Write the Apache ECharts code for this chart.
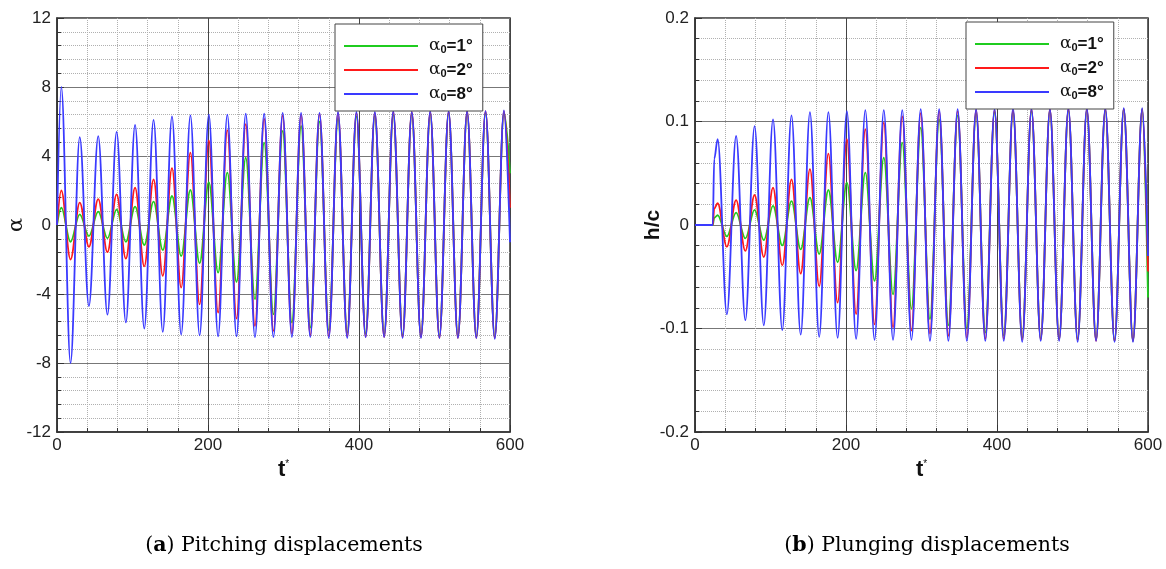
<!DOCTYPE html>
<html><head><meta charset="utf-8">
<script src="https://cdn.jsdelivr.net/npm/echarts@6/dist/echarts.min.js"></script>
<style>html,body{margin:0;padding:0;background:#fff}#c{width:1166px;height:569px}</style>
</head><body><div id="c"></div>
<script>
// ---------- data (successive extremes of each curve) ----------
const seriesNames = ['α0=1°', 'α0=2°', 'α0=8°'];
const seriesColors = ['#1fcc1f', '#ff1a1a', '#3a3aff'];

// (a) pitching displacement alpha vs t*
const pitchTimes = [0, 5.7, 17.9, 30.1, 42.3, 54.6, 66.8, 79.0, 91.2, 103.4, 115.6, 127.9, 140.1, 152.3, 164.5, 176.7, 188.9, 201.1, 213.4, 225.6, 237.8, 250.0, 262.2, 274.4, 286.7, 298.9, 311.1, 323.3, 335.5, 347.7, 360.0, 372.2, 384.4, 396.6, 408.8, 421.0, 433.3, 445.4, 457.7, 469.9, 482.1, 494.3, 506.5, 518.7, 531.0, 543.2, 555.4, 567.6, 579.8, 592.0, 600];
const pitchA1 = [0, 1.0, -0.97, 0.62, -0.64, 0.77, -0.77, 0.9, -0.97, 1.06, -1.16, 1.35, -1.45, 1.68, -1.8, 2.03, -2.22, 2.49, -2.76, 3.04, -3.3, 3.9, -4.3, 4.77, -5.18, 5.45, -5.66, 5.74, -5.95, 6.0, -6.1, 6.2, -6.25, 6.3, -6.3, 6.35, -6.35, 6.4, -6.4, 6.45, -6.45, 6.45, -6.45, 6.5, -6.45, 6.5, -6.5, 6.5, -6.5, 6.5, 3.0];
const pitchA2 = [0, 2.0, -2.0, 1.3, -1.26, 1.5, -1.57, 1.78, -1.95, 2.16, -2.4, 2.65, -2.95, 3.3, -3.63, 4.2, -4.6, 4.9, -5.08, 5.5, -5.43, 5.85, -5.85, 6.15, -6.14, 6.35, -6.3, 6.4, -6.4, 6.45, -6.45, 6.5, -6.45, 6.5, -6.5, 6.5, -6.5, 6.55, -6.5, 6.55, -6.5, 6.55, -6.55, 6.55, -6.55, 6.6, -6.55, 6.6, -6.55, 6.6, 1.0];
const pitchA8 = [0, 8.0, -8.0, 5.1, -4.7, 5.15, -5.2, 5.4, -5.65, 5.8, -6.0, 6.1, -6.2, 6.3, -6.35, 6.35, -6.4, 6.4, -6.45, 6.4, -6.45, 6.45, -6.5, 6.45, -6.5, 6.5, -6.5, 6.5, -6.5, 6.5, -6.55, 6.55, -6.55, 6.55, -6.5, 6.55, -6.5, 6.6, -6.55, 6.55, -6.55, 6.6, -6.55, 6.6, -6.55, 6.6, -6.55, 6.6, -6.6, 6.65, -1.0];

// (b) plunging displacement h/c vs t*
const plungeTimes = [0, 23.5, 25.5, 30.0, 42.2, 54.45, 66.7, 78.9, 91.1, 103.35, 115.6, 127.8, 140.0, 152.25, 164.5, 176.7, 188.9, 201.15, 213.4, 225.6, 237.8, 250.05, 262.3, 274.5, 286.7, 298.95, 311.2, 323.4, 335.6, 347.85, 360.1, 372.3, 384.5, 396.75, 409.0, 421.2, 433.4, 445.65, 457.9, 470.1, 482.3, 494.55, 506.8, 519.0, 531.2, 543.45, 555.7, 567.9, 580.1, 592.35, 600];
const plungeA1 = [0, 0, 0.007, 0.0094, -0.011, 0.012, -0.013, 0.0146, -0.0146, 0.0184, -0.0197, 0.023, -0.0236, 0.0265, -0.028, 0.0338, -0.036, 0.041, -0.044, 0.0506, -0.054, 0.065, -0.067, 0.0796, -0.081, 0.094, -0.091, 0.102, -0.097, 0.106, -0.100, 0.108, -0.104, 0.109, -0.107, 0.110, -0.109, 0.110, -0.110, 0.111, -0.110, 0.111, -0.111, 0.111, -0.111, 0.111, -0.112, 0.112, -0.112, 0.112, -0.07];
const plungeA2 = [0, 0, 0.016, 0.021, -0.021, 0.024, -0.025, 0.029, -0.031, 0.036, -0.039, 0.044, -0.047, 0.054, -0.059, 0.069, -0.075, 0.083, -0.086, 0.0925, -0.096, 0.099, -0.099, 0.105, -0.102, 0.108, -0.105, 0.110, -0.107, 0.110, -0.109, 0.111, -0.110, 0.111, -0.110, 0.111, -0.111, 0.112, -0.111, 0.112, -0.111, 0.112, -0.111, 0.112, -0.112, 0.112, -0.112, 0.112, -0.112, 0.112, -0.045];
const plungeA8 = [0, 0, 0.064, 0.083, -0.0864, 0.086, -0.092, 0.0955, -0.097, 0.102, -0.1015, 0.106, -0.106, 0.109, -0.108, 0.109, -0.109, 0.110, -0.110, 0.111, -0.111, 0.111, -0.111, 0.111, -0.111, 0.112, -0.112, 0.112, -0.112, 0.112, -0.112, 0.112, -0.112, 0.112, -0.112, 0.113, -0.113, 0.112, -0.112, 0.112, -0.112, 0.113, -0.113, 0.113, -0.112, 0.113, -0.113, 0.113, -0.113, 0.113, -0.03];

// axis ticks
const xTicks = [0, 200, 400, 600];
const pitchTicks = [-12, -8, -4, 0, 4, 8, 12];
const plungeTicks = [-0.2, -0.1, 0, 0.1, 0.2];

// ---------- chart ----------
const pair = (ts, vs) => ts.map((t, i) => [t, vs[i]]);
const chart = echarts.init(document.getElementById('c'), null, {renderer: 'canvas'});
const FONT = 'Liberation Sans';

function xAxis(gi) {
  return {
    type: 'value', gridIndex: gi,
    min: xTicks[0], max: xTicks[xTicks.length - 1], interval: xTicks[1] - xTicks[0],
    name: '{t|t}{s|*}', nameLocation: 'middle', nameGap: 20,
    nameTextStyle: {rich: {t: {fontFamily: FONT, fontSize: 22, fontWeight: 'bold', color: '#111'},
                           s: {fontFamily: FONT, fontSize: 10, color: '#111', padding: [0, 0, 12, 0]}}},
    axisLine: {show: true, onZero: false, lineStyle: {color: '#333', width: 1.5}},
    axisTick: {show: true, inside: true, length: 7, lineStyle: {color: '#333'}},
    minorTick: {show: true, splitNumber: 5, length: 4, lineStyle: {color: '#333'}},
    axisLabel: {fontFamily: FONT, fontSize: 17, color: '#222', margin: 5},
    splitLine: {show: true, lineStyle: {color: '#444', width: 1}},
    minorSplitLine: {show: true, lineStyle: {color: '#b0b0b0', type: 'dotted', width: 1}}
  };
}
function yAxis(gi, ticks, name, nameStyle, fmt) {
  return {
    type: 'value', gridIndex: gi,
    min: ticks[0], max: ticks[ticks.length - 1], interval: +(ticks[1] - ticks[0]).toFixed(6),
    name: name, nameLocation: 'middle', nameGap: nameStyle.gap, nameRotate: 90, nameMoveOverlap: false,
    nameTextStyle: nameStyle.style,
    axisLine: {show: true, onZero: false, lineStyle: {color: '#333', width: 1.5}},
    axisTick: {show: true, inside: true, length: 7, lineStyle: {color: '#333'}},
    minorTick: {show: true, splitNumber: 5, length: 4, lineStyle: {color: '#333'}},
    axisLabel: {fontFamily: FONT, fontSize: 17, color: '#222', margin: 6, formatter: fmt},
    splitLine: {show: true, lineStyle: {color: '#777', width: 1.2}},
    minorSplitLine: {show: true, lineStyle: {color: '#b0b0b0', type: 'dotted', width: 1}}
  };
}
function legend(left, top) {
  return {
    orient: 'vertical', left: left, top: top, data: seriesNames,
    padding: [13, 10, 8, 9], itemWidth: 74, itemHeight: 14, itemGap: 6,
    backgroundColor: '#fff', borderColor: '#444', borderWidth: 1, borderRadius: 0,
    icon: 'path://M0,6L74,6L74,8L0,8Z',
    formatter: n => '{a|α}{s|0}{b|' + n.slice(2) + '}',
    textStyle: {padding: [0, 0, 0, 6], rich: {
      a: {fontFamily: 'DejaVu Serif', fontSize: 17, color: '#111', lineHeight: 14},
      s: {fontFamily: FONT, fontSize: 11, fontWeight: 'bold', color: '#111', padding: [7, 0, 0, 0], lineHeight: 14},
      b: {fontFamily: FONT, fontSize: 17, fontWeight: 'bold', color: '#111', lineHeight: 14}
    }}
  };
}
function series(gi, ts, arrs) {
  return arrs.map((vs, i) => ({
    name: seriesNames[i], type: 'line', xAxisIndex: gi, yAxisIndex: gi,
    data: pair(ts, vs), showSymbol: false, symbol: 'none',
    smooth: 0.36, smoothMonotone: 'x', clip: true,
    color: seriesColors[i], lineStyle: {color: seriesColors[i], width: 1.8},
    silent: true
  }));
}

const capRich = {p: {fontFamily: 'DejaVu Serif', fontSize: 20.5, color: '#111'},
                 b: {fontFamily: 'DejaVu Serif', fontSize: 20.5, fontWeight: 'bold', color: '#111'}};

chart.setOption({
  animation: false,
  backgroundColor: '#fff',
  grid: [
    {left: 57, top: 18, width: 453, height: 414, show: true, borderColor: '#333', borderWidth: 1.5, backgroundColor: 'transparent', outerBoundsMode: 'none'},
    {left: 695, top: 18, width: 453, height: 414, show: true, borderColor: '#333', borderWidth: 1.5, backgroundColor: 'transparent', outerBoundsMode: 'none'}
  ],
  xAxis: [xAxis(0), xAxis(1)],
  yAxis: [
    yAxis(0, pitchTicks, 'α', {gap: 30, style: {fontFamily: 'DejaVu Serif', fontSize: 21, color: '#111'}}, v => String(v)),
    yAxis(1, plungeTicks, 'h/c', {gap: 31, style: {fontFamily: FONT, fontSize: 21, fontWeight: 'bold', color: '#111'}}, v => (Math.abs(v) < 1e-9 ? '0' : String(+v.toFixed(2))))
  ],
  legend: [legend(335, 24), legend(966, 22)],
  series: [].concat(series(0, pitchTimes, [pitchA1, pitchA2, pitchA8]),
                    series(1, plungeTimes, [plungeA1, plungeA2, plungeA8])),
  graphic: [
    {type: 'text', x: 284, y: 546, style: {text: '{p|(}{b|a}{p|) Pitching displacements}', align: 'center', verticalAlign: 'middle', rich: capRich}},
    {type: 'text', x: 927, y: 546, style: {text: '{p|(}{b|b}{p|) Plunging displacements}', align: 'center', verticalAlign: 'middle', rich: capRich}}
  ]
});
</script></body></html>
